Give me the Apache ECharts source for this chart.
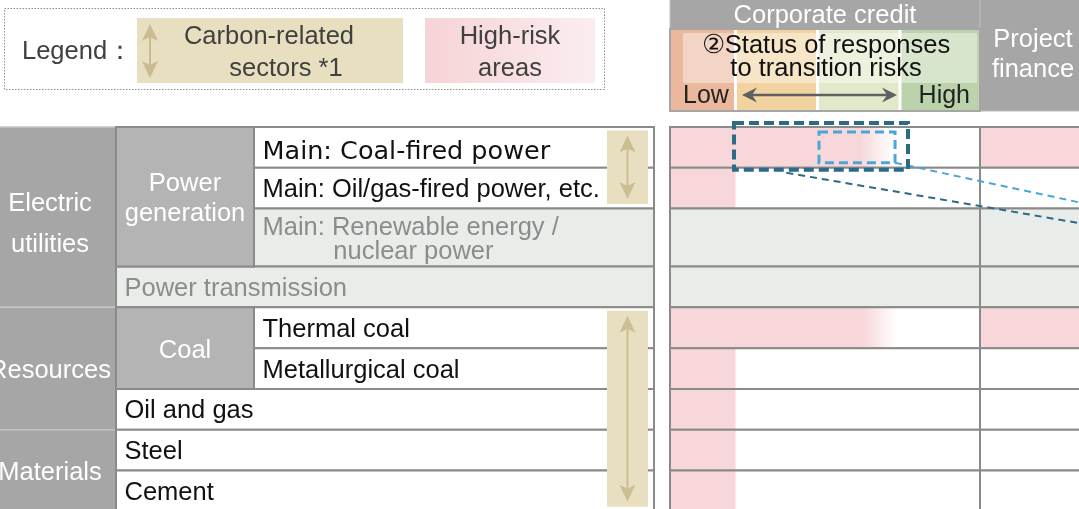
<!DOCTYPE html>
<html lang="en">
<head>
<meta charset="utf-8" />
<title>Carbon-related sectors and transition risk</title>
<script src="https://cdn.jsdelivr.net/npm/echarts@6/dist/echarts.min.js"></script>
<style>
	html, body { margin: 0; padding: 0; background: #fff; }
	#chart { width: 1079px; height: 509px; }
</style>
</head>
<body>
<div id="chart"></div>
<script>
// ---------- data ----------
const sectorNames = ['Electric\nutilities', 'Resources', 'Materials'];
const sectorRows = [[0, 3], [4, 6], [7, 8]];          // first / last row of each sector
const subNames = ['Power\ngeneration', 'Coal'];
const subRows = [[0, 2], [4, 5]];
const rowNames = [
	'Main: Coal-fired power',
	'Main: Oil/gas-fired power, etc.',
	'Main: Renewable energy /\n          nuclear power',
	'Power transmission',
	'Thermal coal',
	'Metallurgical coal',
	'Oil and gas',
	'Steel',
	'Cement'
];
const rowInSub = [1, 1, 1, 0, 1, 1, 0, 0, 0];        // 1 = row sits under a sub-sector cell
const outOfScope = [0, 0, 1, 1, 0, 0, 0, 0, 0];      // greyed rows
const carbonGroups = [[0, 1], [4, 8]];               // carbon-related sectors (rows)
const corpRisk = [2.92, 1, 0, 0, 2.96, 1, 1, 1, 1];  // high-risk area, in response levels (from Low)
const projRisk = [1, 0, 0, 0, 1, 0, 0, 0, 0];        // project finance high-risk
const levelNames = ['Low', '', '', 'High'];
const levelColors = ['#ebb79d', '#f1d2a0', '#e0e9c9', '#bad3aa'];
const focusRow = 0, focusLevels = [1, 3], detailLevels = [2, 2.94];

// ---------- layout ----------
const W = 1079, H = 509;
const colX = { sector: [-40, 116], sub: [116, 254], label: [254, 654], corp: [670, 980], proj: [980, 1130] };
const levelEdges = [670, 735.5, 817.5, 900, 980];
const headY = [0, 29, 111];
const rowUnits = [1, 1, 1.42, 1, 1, 1, 1, 1, 1];
const bodyTop = 127, unitH = 40.8;
const rowEdges = [bodyTop];
rowUnits.forEach(function (u, i) { rowEdges.push(rowEdges[i] + u * unitH); });
const sectorDy = [7, 2.5, 2.5];

const FONT = '"Liberation Sans", Arial, sans-serif';
function f(size) { return size + 'px ' + FONT; }
const PINK = '#f7d7d9', GREY_ROW = '#e8ede9', LINE = '#8a8a8a';

function box(api, x0, x1, y0, y1) {
	const a = api.coord([x0, y0]), b = api.coord([x1, y1]);
	return { x: a[0], y: a[1], width: b[0] - a[0], height: b[1] - a[1] };
}
function lvlX(v) {
	const k = Math.min(Math.floor(v), 3);
	return levelEdges[k] + (v - k) * (levelEdges[k + 1] - levelEdges[k]);
}
function txt(api, s, x, y, opt) {
	const p = api.coord([x, y]);
	return { type: 'text', style: Object.assign({ text: s, x: p[0], y: p[1], font: f(25.5), fill: '#111',
		align: 'left', verticalAlign: 'middle' }, opt || {}) };
}
// vertical double arrow (pixel space)
function vArrow(x, y0, y1, color) {
	return [
		{ type: 'line', shape: { x1: x, y1: y0 + 8, x2: x, y2: y1 - 8 }, style: { stroke: color, lineWidth: 2 } },
		{ type: 'polygon', shape: { points: [[x, y0], [x + 8, y0 + 17], [x, y0 + 13], [x - 8, y0 + 17]] }, style: { fill: color } },
		{ type: 'polygon', shape: { points: [[x, y1], [x + 8, y1 - 17], [x, y1 - 13], [x - 8, y1 - 17]] }, style: { fill: color } }
	];
}

// ---------- renderers ----------
function renderSector(params, api) {
	const i = params.dataIndex, r = sectorRows[i];
	const y0 = rowEdges[r[0]], y1 = rowEdges[r[1] + 1];
	return { type: 'group', children: [
		{ type: 'rect', shape: box(api, colX.sector[0], colX.sector[1], y0, y1), style: { fill: '#a6a6a6', stroke: '#c4c4c4', lineWidth: 1.5 } },
		txt(api, sectorNames[i], 50, (y0 + y1) / 2 + sectorDy[i], { fill: '#fff', align: 'center', lineHeight: 41 })
	] };
}
function renderSub(params, api) {
	const i = params.dataIndex, r = subRows[i];
	const y0 = rowEdges[r[0]], y1 = rowEdges[r[1] + 1];
	return { type: 'group', children: [
		{ type: 'rect', shape: box(api, colX.sub[0], colX.sub[1], y0, y1), style: { fill: '#b4b4b4', stroke: LINE, lineWidth: 2 } },
		txt(api, subNames[i], (colX.sub[0] + colX.sub[1]) / 2, (y0 + y1) / 2 + 2.5, { fill: '#fff', align: 'center', lineHeight: 30 })
	] };
}
function renderRow(params, api) {
	const i = params.dataIndex;
	const x0 = rowInSub[i] ? colX.label[0] : colX.sub[0];
	const y0 = rowEdges[i], y1 = rowEdges[i + 1];
	const grey = outOfScope[i];
	const opt = { fill: grey ? '#8c8c8c' : '#111', lineHeight: 24 };
	let dy = 2;
	if (i === 0) { opt.font = '25.5px "DejaVu Sans", sans-serif'; dy = 5; }
	return { type: 'group', children: [
		{ type: 'rect', shape: box(api, x0, colX.label[1], y0, y1), style: { fill: grey ? GREY_ROW : '#fff', stroke: LINE, lineWidth: 2 } },
		txt(api, rowNames[i], x0 + 8.5, (y0 + y1) / 2 + dy, opt)
	] };
}
function renderCarbon(params, api) {
	const g = carbonGroups[params.dataIndex];
	const rc = box(api, 607, 648, rowEdges[g[0]] + 3.5, rowEdges[g[1] + 1] - 4.5);
	return { type: 'group', children: [{ type: 'rect', shape: rc, style: { fill: '#e8dfc0' } }]
		.concat(vArrow(rc.x + rc.width / 2, rc.y + 5, rc.y + rc.height - 5, '#cdbd93')) };
}
function renderCorp(params, api) {
	const i = params.dataIndex;
	const y0 = rowEdges[i], y1 = rowEdges[i + 1];
	const ch = [{ type: 'rect', shape: box(api, colX.corp[0], colX.corp[1], y0, y1), style: { fill: outOfScope[i] ? GREY_ROW : '#fff' } }];
	const v = corpRisk[i];
	if (v > 0) {
		const fade = v > 1 ? 0.4 : 0;
		ch.push({ type: 'rect', shape: box(api, lvlX(0), lvlX(v - fade), y0, y1), style: { fill: PINK } });
		if (fade) {
			ch.push({ type: 'rect', shape: box(api, lvlX(v - fade) - 0.5, lvlX(v), y0, y1), style: {
				fill: new echarts.graphic.LinearGradient(0, 0, 1, 0, [
					{ offset: 0, color: PINK }, { offset: 1, color: 'rgba(247,215,217,0)' }]) } });
		}
	}
	ch.push({ type: 'rect', shape: box(api, colX.corp[0], colX.corp[1], y0, y1), style: { fill: 'none', stroke: LINE, lineWidth: 2 } });
	return { type: 'group', children: ch };
}
function renderProj(params, api) {
	const i = params.dataIndex;
	const y0 = rowEdges[i], y1 = rowEdges[i + 1];
	const fill = projRisk[i] ? PINK : (outOfScope[i] ? GREY_ROW : '#fff');
	return { type: 'rect', shape: box(api, colX.proj[0], colX.proj[1], y0, y1), style: { fill: fill, stroke: LINE, lineWidth: 2 } };
}
function renderHeader(params, api) {
	const ch = [];
	ch.push({ type: 'rect', shape: box(api, colX.corp[0], colX.corp[1], headY[0] - 10, headY[1]), style: { fill: '#a6a6a6', stroke: '#bdbdbd', lineWidth: 1 } });
	ch.push({ type: 'rect', shape: box(api, colX.proj[0], colX.proj[1], headY[0] - 10, headY[2]), style: { fill: '#a6a6a6', stroke: '#bdbdbd', lineWidth: 1 } });
	levelColors.forEach(function (c, k) {
		const x0 = levelEdges[k] + (k > 0 ? 1.5 : 0);
		const x1 = levelEdges[k + 1] - (k < 3 ? 1.5 : 0);
		ch.push({ type: 'rect', shape: box(api, x0, x1, headY[1], headY[2]), style: { fill: c } });
	});
	ch.push({ type: 'rect', shape: box(api, colX.corp[0], colX.corp[1], headY[1], headY[2]), style: { fill: 'none', stroke: '#a6a6a6', lineWidth: 2 } });
	ch.push({ type: 'rect', shape: box(api, levelEdges[0] + 13, levelEdges[4] - 3, 33, 83), style: { fill: 'rgba(255,255,255,0.42)' } });
	ch.push(txt(api, 'Corporate credit', (colX.corp[0] + colX.corp[1]) / 2, 15.5, { fill: '#fff', align: 'center' }));
	ch.push(txt(api, 'Project\nfinance', 1033, 55, { fill: '#fff', align: 'center', lineHeight: 30 }));
	ch.push(txt(api, '②Status of responses\nto transition risks', 826, 57, { align: 'center', lineHeight: 23 }));
	ch.push(txt(api, levelNames[0], levelEdges[0] + 13, 96.5, { fill: '#222', font: f(25) }));
	ch.push(txt(api, levelNames[3], levelEdges[4] - 10, 96.5, { fill: '#222', font: f(25), align: 'right' }));
	// Low <-> High arrow
	const a = api.coord([levelEdges[1] + 6.5, 95]), b = api.coord([levelEdges[3] - 3, 95]);
	const col = '#606060';
	ch.push({ type: 'line', shape: { x1: a[0] + 6, y1: a[1], x2: b[0] - 6, y2: b[1] }, style: { stroke: col, lineWidth: 2.5 } });
	ch.push({ type: 'polygon', shape: { points: [[a[0], a[1]], [a[0] + 15, a[1] - 7.5], [a[0] + 10, a[1]], [a[0] + 15, a[1] + 7.5]] }, style: { fill: col } });
	ch.push({ type: 'polygon', shape: { points: [[b[0], b[1]], [b[0] - 15, b[1] - 7.5], [b[0] - 10, b[1]], [b[0] - 15, b[1] + 7.5]] }, style: { fill: col } });
	return { type: 'group', children: ch };
}
function renderFocus(params, api) {
	const y0 = rowEdges[focusRow], y1 = rowEdges[focusRow + 1];
	const outer = box(api, lvlX(focusLevels[0]) - 1.5, lvlX(focusLevels[1]) + 8, y0 - 4, y1 + 2);
	const inner = box(api, lvlX(detailLevels[0]) + 1.5, lvlX(detailLevels[1]), y0 + 5, y1 - 5);
	const d1 = api.coord([lvlX(1.62), y1 + 5]), e1 = api.coord([1200, y1 + 5 + 413 * 0.172]);
	const d2 = [inner.x + inner.width, inner.y + inner.height];
	const e2 = [d2[0] + 300, d2[1] + 300 * 0.215];
	return { type: 'group', children: [
		{ type: 'line', shape: { x1: d1[0], y1: d1[1], x2: e1[0], y2: e1[1] }, style: { stroke: '#2b6a89', lineWidth: 2, lineDash: [7, 5] } },
		{ type: 'line', shape: { x1: d2[0], y1: d2[1], x2: e2[0], y2: e2[1] }, style: { stroke: '#4aa6d6', lineWidth: 2, lineDash: [7, 5] } },
		{ type: 'rect', shape: outer, style: { fill: 'none', stroke: '#2b6a89', lineWidth: 4, lineDash: [10, 5] } },
		{ type: 'rect', shape: inner, style: { fill: 'none', stroke: '#4aa6d6', lineWidth: 3, lineDash: [9, 5] } }
	] };
}

function idx(arr) { return arr.map(function (_, i) { return [i, 0]; }); }
function custom(name, data, fn, z) {
	return { type: 'custom', name: name, coordinateSystem: 'cartesian2d', data: data, renderItem: fn, clip: false, silent: true, z: z || 2 };
}

const chart = echarts.init(document.getElementById('chart'));
chart.setOption({
	animation: false,
	backgroundColor: '#fff',
	grid: { left: 0, right: 0, top: 0, bottom: 0 },
	xAxis: { type: 'value', min: 0, max: W, show: false },
	yAxis: { type: 'value', min: 0, max: H, inverse: true, show: false },
	graphic: { elements: [
		{ type: 'rect', shape: { x: 4.5, y: 8.5, width: 600, height: 81 }, style: { fill: 'none', stroke: '#8c8c8c', lineWidth: 1, lineDash: [1.5, 1.5] } },
		{ type: 'text', style: { text: 'Legend：', x: 22, y: 52, font: f(25.5), fill: '#404040', verticalAlign: 'middle' } },
		{ type: 'rect', shape: { x: 137, y: 18, width: 266, height: 65 }, style: { fill: '#e8dfc0' } },
		{ type: 'group', children: vArrow(150, 24, 78, '#cbbb90') },
		{ type: 'text', style: { text: 'Carbon-related', x: 269, y: 37, font: f(25.5), fill: '#404040', align: 'center', verticalAlign: 'middle' } },
		{ type: 'text', style: { text: 'sectors *1', x: 286, y: 69, font: f(25.5), fill: '#404040', align: 'center', verticalAlign: 'middle' } },
		{ type: 'rect', shape: { x: 425, y: 18, width: 170, height: 65 }, style: {
			fill: new echarts.graphic.LinearGradient(0, 0, 1, 0, [{ offset: 0, color: '#f6d3d6' }, { offset: 1, color: '#fbedef' }]) } },
		{ type: 'text', style: { text: 'High-risk', x: 510, y: 37, font: f(25.5), fill: '#404040', align: 'center', verticalAlign: 'middle' } },
		{ type: 'text', style: { text: 'areas', x: 510, y: 69, font: f(25.5), fill: '#404040', align: 'center', verticalAlign: 'middle' } }
	] },
	series: [
		custom('sector', idx(sectorNames), renderSector),
		custom('rows', idx(rowNames), renderRow),
		custom('subsector', idx(subNames), renderSub),
		custom('carbon-related', idx(carbonGroups), renderCarbon, 3),
		custom('corporate credit', idx(corpRisk), renderCorp),
		custom('project finance', idx(projRisk), renderProj),
		custom('header', [[0, 0]], renderHeader),
		custom('focus', [[0, 0]], renderFocus, 5)
	]
});
window.onresize = function () { chart.resize(); };
</script>
</body>
</html>
